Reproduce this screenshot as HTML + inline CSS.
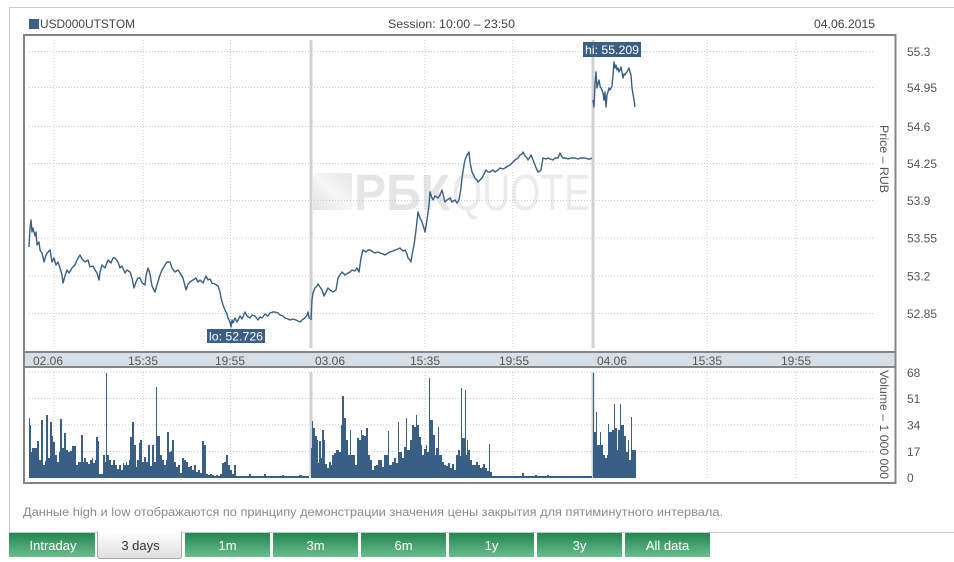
<!DOCTYPE html>
<html><head><meta charset="utf-8">
<style>
html,body{margin:0;padding:0;background:#fff;}
svg{display:block;}
text{font-family:"Liberation Sans","DejaVu Sans",sans-serif;}
</style></head>
<body>
<svg width="954" height="562" viewBox="0 0 954 562" xmlns="http://www.w3.org/2000/svg">
<defs>
<linearGradient id="gt" x1="0" y1="0" x2="0" y2="1">
<stop offset="0" stop-color="#23864f"/><stop offset="1" stop-color="#6cbd8e"/>
</linearGradient>
<linearGradient id="wt" x1="0" y1="0" x2="0" y2="1">
<stop offset="0" stop-color="#ffffff"/><stop offset="1" stop-color="#dedede"/>
</linearGradient>
<linearGradient id="wm" x1="0" y1="1" x2="1" y2="0">
<stop offset="0" stop-color="#e2e2e2"/><stop offset="0.5" stop-color="#f6f6f6"/><stop offset="1" stop-color="#e6e6e6"/>
</linearGradient>
</defs>
<rect width="954" height="562" fill="#fff"/>
<!-- outer frame -->
<path d="M9.5 532V7.5H954M9 532.5H954" fill="none" stroke="#c8c8c8" stroke-width="1"/>
<!-- header -->
<rect x="29" y="19" width="10" height="10" fill="#3a5f85"/>
<text x="40" y="28" font-size="12" fill="#444" textLength="95" lengthAdjust="spacingAndGlyphs">USD000UTSTOM</text>
<text x="388" y="28" font-size="12" fill="#444" textLength="127" lengthAdjust="spacingAndGlyphs">Session: 10:00 – 23:50</text>
<text x="814" y="28" font-size="12" fill="#444" textLength="61" lengthAdjust="spacingAndGlyphs">04.06.2015</text>

<!-- watermark -->
<polygon points="313,173 352,173 352,210 313,210" fill="url(#wm)"/>
<text x="354" y="210" font-size="51" font-weight="bold" fill="#e5e5e5" textLength="96" lengthAdjust="spacingAndGlyphs">РБК</text>
<text x="452" y="210" font-size="51" fill="#ebebeb" textLength="138" lengthAdjust="spacingAndGlyphs">QUOTE</text>

<!-- price grid -->
<g stroke="#c9c9c9" stroke-width="1" stroke-dasharray="1,2" fill="none">
<path d="M29 51.5H875M29 87.5H875M29 126.5H875M29 163.5H875M29 200.5H875M29 238H875M29 276H875M29 313.5H875"/>
<path d="M54 40V348M143 40V348M230.5 40V348M425 40V348M513 40V348M707 40V348M796 40V348"/>
<path d="M29 372H875M29 398.5H875M29 425H875M29 451.5H875"/>
<path d="M54 372V478M143 372V478M230.5 372V478M425 372V478M513 372V478M707 372V478M796 372V478"/>
</g>
<!-- separators -->
<rect x="309.5" y="40" width="3" height="308" fill="#d0d0d0"/>
<rect x="591.5" y="40" width="3" height="308" fill="#d0d0d0"/>
<rect x="309.5" y="372" width="3" height="106" fill="#d0d0d0"/>
<rect x="591.5" y="372" width="3" height="106" fill="#d0d0d0"/>

<!-- price line -->
<g fill="none" stroke="#3a5f85" stroke-width="1.4" stroke-linejoin="round">
<polyline points="29,247 30,228 31,220 32,232 33,228 35,236 36,232 37,245 39,242 40,250 42,253 44,262 46,255 48,252 50,250 52,262 54,258 56,265 58,262 60,268 62,275 63,283 65,276 67,270 69,273 72,268 75,265 77,260 80,255 82,259 85,262 88,260 90,267 93,266 95,270 97,273 99,280 100,272 102,265 105,268 108,260 111,263 113,258 115,258 118,262 120,268 122,266 125,273 127,270 130,272 132,278 134,288 136,282 138,278 140,278 142,283 145,285 146,276 148,268 150,274 152,286 153,288 155,292 157,285 160,275 162,270 165,265 167,262 170,262 172,268 175,272 178,270 180,273 183,278 186,290 188,284 190,282 193,280 196,278 198,282 200,280 203,283 206,276 208,280 210,279 212,283 215,284 218,286 220,292 221,298 223,305 225,310 227,314 228,318 230,322 231,327 232,320 233,323 235,318 237,322 240,316 242,319 245,312 247,316 250,318 252,315 255,316 258,320 260,317 262,318 265,314 268,316 270,313 273,312 275,312 278,313 280,315 283,316 285,318 288,319 290,320 293,319 296,320 298,321 300,322 302,320 305,318 307,315 308,312 309,318 310,318"/>
<polyline points="311,320 312,300 313,293 315,288 317,286 318,284 320,287 322,290 324,296 326,292 328,288 330,290 333,292 336,290 338,278 340,275 342,272 345,275 348,273 350,272 352,270 355,271 357,268 359,272 361,258 363,250 366,252 368,250 370,250 373,252 375,253 378,252 380,253 383,254 385,255 388,253 390,252 393,251 395,250 398,249 400,248 403,251 405,250 407,254 408,258 410,260 411,262 412,255 414,245 416,230 418,212 420,218 422,222 423,225 425,232 427,220 429,205 430,192 432,198 433,200 435,196 438,198 440,195 442,190 444,198 445,202 447,200 450,198 452,202 455,200 457,203 459,200 461,188 462,178 464,165 465,160 467,155 469,152 470,162 472,172 474,176 475,178 477,180 478,182 480,180 482,178 484,174 486,170 488,172 490,172 493,170 495,172 498,170 500,168 503,169 505,168 508,166 510,165 513,162 515,160 518,158 520,155 522,154 523,152 525,156 527,158 528,160 530,157 531,155 533,160 535,165 537,170 538,172 540,171 541,170 542,164 543,158 546,159 548,158 550,159 553,160 555,158 558,158 560,153 562,157 563,158 566,158 568,159 571,158 575,158 578,159 580,158 583,158 585,158 588,159 590,159 592,158"/>
<polyline points="593,100 594,107 595,85 596,72 597,88 598,84 599,80 600,86 601,88 602,90 603,93 604,100 605,92 606,107 607,95 608,92 609,88 610,90 611,88 612,86 613,75 614,62 615,68 616,65 617,70 618,68 619,72 620,70 621,67 622,72 623,78 624,74 625,75 626,73 627,72 628,70 629,68 630,72 631,75 632,88 633,94 634,100 635,107"/>
</g>

<!-- hi / lo labels -->
<rect x="583" y="42" width="58" height="15" fill="#3a5f85"/>
<text x="585" y="54" font-size="12" fill="#fff" textLength="54" lengthAdjust="spacingAndGlyphs">hi: 55.209</text>
<rect x="207" y="329" width="58" height="14" fill="#3a5f85"/>
<text x="209" y="340.5" font-size="12" fill="#fff" textLength="54" lengthAdjust="spacingAndGlyphs">lo: 52.726</text>

<!-- volume bars -->
<g fill="#3a5f85">
<path d="M29 478V418H30V425H31V452H32V448H37V441H39V460H41V420H43V465H45V461H46V415H48V458H50V422H52V436H53V442H55V455H57V462H59V452H60V419H62V448H64V433H66V450H68V452H70V451H72V446H76V465H78V462H81V435H83V462H84V458H86V462H88V464H90V460H92V458H93V463H95V460H96V437H98V441H99V474H103V455H105V462H106V373H107V455H109V460H111V465H113V460H115V465H117V469H119V465H121V470H123V463H124V465H126V462H127V465H129V460H130V437H132V422H134V445H136V467H137V460H139V443H140V440H142V462H144V457H146V462H148V445H150V466H152V445H154V462H156V387H157V436H160V455H162V460H164V465H166V460H167V432H169V452H171V451H172V440H174V462H176V467H178V465H180V473H182V458H184V460H186V462H188V467H190V466H192V470H194V465H196V472H198V470H200V473H202V441H204V445H206V474H208V475H210V474H212V475H214V476H216V475H218V476H220V474H222V463H224V462H226V455H228V465H230V470H232V474H234V465H236V476H249V474H251V476H264V474H266V476H282V475H284V476H299V475H302V476H309V478Z"/>
<path d="M311 478V448H312V421H313V428H315V436H317V440H318V463H319V441H321V458H322V430H324V440H325V464H327V468H329V462H331V465H332V455H334V453H336V450H339V452H341V425H342V396H344V418H346V440H348V455H350V430H351V455H355V465H357V438H359V440H361V430H362V435H364V436H366V428H368V455H370V460H372V470H374V466H376V465H378V460H382V467H384V455H388V431H389V465H392V462H394V458H396V463H398V422H399V452H402V458H404V447H406V418H407V450H410V440H412V425H414V427H416V415H417V425H419V437H421V445H422V455H424V449H426V445H427V452H429V378H430V420H433V435H435V455H436V448H438V427H439V455H442V462H444V465H446V466H448V463H450V468H452V464H454V470H456V455H458V450H460V456H461V388H462V438H465V390H466V455H467V440H468V450H470V460H472V465H476V462H478V465H480V468H482V467H483V464H485V468H487V471H489V444H490V472H492V476H522V473H524V476H535V475H537V476H547V475H549V476H592V478Z"/>
<path d="M593 478V373H594V432H596V412H597V445H600V432H601V445H603V455H605V458H607V455H608V424H609V432H612V430H614V404H615V428H617V450H618V430H620V404H621V425H624V436H626V452H628V440H629V460H631V417H632V450H636V478Z"/>
</g>

<!-- axis band -->
<rect x="25" y="352" width="870" height="15" fill="#d6dee6"/>
<path d="M24 352H896M24 367H896" stroke="#858585" stroke-width="2" fill="none"/>
<g font-size="12" fill="#555">
<text x="33" y="365">02.06</text>
<text x="128" y="365">15:35</text>
<text x="215" y="365">19:55</text>
<text x="315" y="365">03.06</text>
<text x="410" y="365">15:35</text>
<text x="499" y="365">19:55</text>
<text x="597" y="365">04.06</text>
<text x="692" y="365">15:35</text>
<text x="781" y="365">19:55</text>
</g>

<!-- chart box -->
<rect x="24" y="35" width="871.5" height="448" fill="none" stroke="#858585" stroke-width="2"/>

<!-- right axis -->
<g font-size="12" fill="#555">
<text x="907" y="56">55.3</text>
<text x="907" y="92">54.95</text>
<text x="907" y="131">54.6</text>
<text x="907" y="168">54.25</text>
<text x="907" y="205">53.9</text>
<text x="907" y="242.5">53.55</text>
<text x="907" y="280.5">53.2</text>
<text x="907" y="318">52.85</text>
<text x="907" y="377">68</text>
<text x="907" y="403">51</text>
<text x="907" y="429.5">34</text>
<text x="907" y="456">17</text>
<text x="907" y="482">0</text>
</g>
<text transform="translate(880,125) rotate(90)" font-size="12" fill="#555" textLength="68" lengthAdjust="spacingAndGlyphs">Price – RUB</text>
<text transform="translate(880,370) rotate(90)" font-size="12" fill="#555" textLength="109" lengthAdjust="spacingAndGlyphs">Volume – 1 000 000</text>

<!-- footnote -->
<text x="23" y="516" font-size="12" fill="#8a8a8a" textLength="700" lengthAdjust="spacingAndGlyphs">Данные high и low отображаются по принципу демонстрации значения цены закрытия для пятиминутного интервала.</text>

<!-- tabs -->
<rect x="9" y="533" width="86" height="24" fill="url(#gt)"/>
<path d="M97.5 531.5V556Q97.5 558.5 100 558.5H179Q181.5 558.5 181.5 556V531.5" fill="url(#wt)" stroke="#a8a8a8" stroke-width="1"/>
<rect x="185" y="533" width="85" height="24" fill="url(#gt)"/>
<rect x="273" y="533" width="85" height="24" fill="url(#gt)"/>
<rect x="361" y="533" width="85" height="24" fill="url(#gt)"/>
<rect x="449" y="533" width="85" height="24" fill="url(#gt)"/>
<rect x="537" y="533" width="85" height="24" fill="url(#gt)"/>
<rect x="625" y="533" width="85" height="24" fill="url(#gt)"/>
<g font-size="13" fill="#fff" text-anchor="middle">
<text x="53" y="550">Intraday</text>
<text x="227.5" y="550">1m</text>
<text x="315.5" y="550">3m</text>
<text x="403.5" y="550">6m</text>
<text x="491.5" y="550">1y</text>
<text x="579.5" y="550">3y</text>
<text x="667.5" y="550">All data</text>
</g>
<text x="140.5" y="550" font-size="13" fill="#333" text-anchor="middle">3 days</text>
</svg>
</body></html>
